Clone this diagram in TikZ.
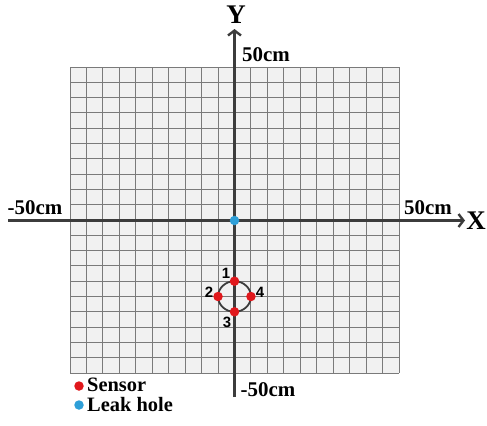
\documentclass[tikz,border=0pt]{standalone}
\usepackage{fontspec}
\setmainfont{Liberation Serif}
\setsansfont{Liberation Sans}
\usetikzlibrary{arrows.meta}
\definecolor{gridfill}{HTML}{F1F1F1}
\definecolor{gridcol}{HTML}{7A7A7A}
\definecolor{axiscol}{HTML}{3C3C3C}
\definecolor{sensorred}{HTML}{E0181C}
\definecolor{leakblue}{HTML}{2E9FD8}
\begin{document}
\begin{tikzpicture}[x=1bp,y=-1bp,
  gridline/.style={draw=gridcol,line width=1bp},
  axis/.style={draw=axiscol,line width=3bp,-{Straight Barb[length=5bp,width=13bp,line width=2.4bp]}},
  axislabel/.style={font=\bfseries\fontsize{27}{27}\selectfont,inner sep=0pt},
  cmlabel/.style={font=\bfseries\fontsize{21}{21}\selectfont,inner sep=0pt},
  numlabel/.style={font=\sffamily\bfseries\fontsize{15}{15}\selectfont,inner sep=0pt},
  legendlabel/.style={font=\bfseries\fontsize{20.5}{20.5}\selectfont,inner sep=0pt,anchor=west},
  dot/.style={circle,inner sep=0pt,minimum size=9.5bp},
  sensor/.style={dot,fill=sensorred},
  leak/.style={dot,fill=leakblue}]
\useasboundingbox (0,0) rectangle (487,425);
% grid
\fill[gridfill] (70,67) rectangle (399,373);
\foreach \i in {0,...,20} \draw[gridline] ({70+\i*16.45},67) -- ({70+\i*16.45},373);
\foreach \j in {0,...,20} \draw[gridline] (70,{67+\j*15.3}) -- (399,{67+\j*15.3});
% axes
\coordinate (xs) at (8,220.5);
\coordinate (xe) at (465,220.5);
\coordinate (ys) at (234.5,397);
\coordinate (ye) at (234.5,29);
\draw[axis] (xs) -- (xe);
\draw[axis] (ys) -- (ye);
% axis labels
\node[axislabel] (ylab) at (236,15) {Y};
\node[axislabel] (xlab) at (476,221) {X};
\node[cmlabel] (ytop) at (266,55) {50cm};
\node[cmlabel] (ybot) at (268,390) {-50cm};
\node[cmlabel] (xleft) at (35,208) {-50cm};
\node[cmlabel] (xright) at (428,208) {50cm};
% sensor ring
\draw[draw=axiscol,line width=1.8bp] (234.5,296.5) ellipse [x radius=16.45, y radius=15.3];
\node[sensor] (s1) at (234.5,281.2) {};
\node[sensor] (s2) at (218.05,296.5) {};
\node[sensor] (s3) at (234.5,311.8) {};
\node[sensor] (s4) at (250.95,296.5) {};
\node[numlabel] (n1) at (226,273) {1};
\node[numlabel] (n2) at (209,292) {2};
\node[numlabel] (n3) at (227,322) {3};
\node[numlabel] (n4) at (260,292) {4};
% leak hole
\node[leak] (hole) at (234.5,220.5) {};
% legend
\node[sensor] (legs) at (79,386) {};
\node[legendlabel] (legst) at (87,385) {Sensor};
\node[leak] (legl) at (79,405) {};
\node[legendlabel] (leglt) at (87,405) {Leak hole};
\end{tikzpicture}
\end{document}
